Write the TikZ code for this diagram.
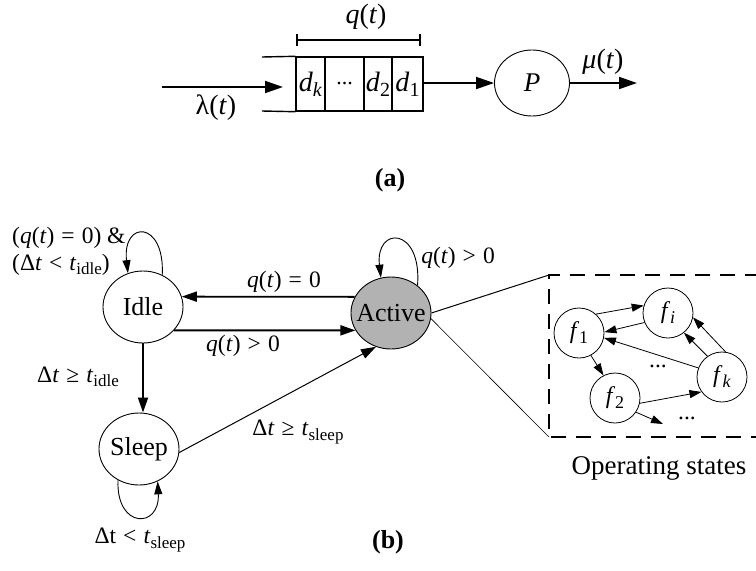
\documentclass[tikz,border=0pt]{standalone}
\usepackage{fontspec}
\setmainfont{Liberation Serif}
\usetikzlibrary{arrows.meta,shapes.geometric,calc}

\newcommand\vq{\textit{q}}
\newcommand\vt{\textit{t}}
\newcommand\vd{\textit{d}}
\newcommand\qoft{\vq(\vt)}
\newcommand\rel[1]{\hspace{0.3em}#1\hspace{0.3em}}
\newcommand\lowtext[2][17]{\raisebox{-0.4ex}{\fontsize{#1}{#1}\selectfont #2}}

\begin{document}
\begin{tikzpicture}[x=1pt,y=-1pt,
  every node/.style={font=\fontsize{23.5}{27}\selectfont, inner sep=0pt},
  bigtext/.style={font=\fontsize{28}{30}\selectfont},
  arrA/.style={-{Triangle[length=18pt,width=12pt]}, line width=1.8pt},
  arr/.style={-{Triangle[length=15pt,width=10pt]}, line width=1.8pt},
  thinarr/.style={-{Triangle[length=15pt,width=10pt]}, line width=1pt},
  loop/.style={-{Triangle[length=13pt,width=8pt]}, line width=0.9pt},
  smallarr/.style={-{Triangle[length=12pt,width=8pt]}, line width=0.8pt},
  statenode/.style={ellipse, draw, line width=0.9pt, minimum width=80pt,
    minimum height=72pt, inner sep=0pt, font=\fontsize{26}{28}\selectfont},
  opnode/.style={circle, draw, line width=0.8pt, minimum size=50pt,
    inner sep=0pt, font=\fontsize{24}{26}\selectfont},
  cell/.style={rectangle, draw, line width=1.4pt, minimum height=54pt,
    inner sep=0pt, font=\fontsize{28}{30}\selectfont},
  wall/.style={line width=1.4pt},
  boxline/.style={line width=1.8pt, dash pattern=on 15pt off 10pt}
]
\useasboundingbox (0,0) rectangle (756,571);

% ---------- (a) queue feeding the processor ----------
\node[cell, minimum width=29pt] (dk) at (310.5,84) {\vd\lowtext[20]{\textit{k}}};
\node[cell, minimum width=39pt] (dq) at (344.5,84) {\fontsize{22}{24}\selectfont...};
\node[cell, minimum width=28pt] (d2) at (378,84) {\vd\lowtext[20]{2}};
\node[cell, minimum width=31pt] (d1) at (407.5,84) {\vd\lowtext[20]{1}};

\coordinate (mouthtop) at (262,57);
\coordinate (mouthbot) at (262,111);
\draw[wall] (mouthtop) -- (dk.north west);
\draw[wall] (mouthbot) -- (dk.south west);

\coordinate (src) at (162,87);
\coordinate (qin) at (283,87);
\draw[arrA] (src) -- (qin);
\node[bigtext] (lam) at (216,108) {λ(\vt)};

\coordinate (bl) at (297,40);
\coordinate (br) at (420,40);
\draw[line width=1.4pt] (bl) -- (br);
\draw[line width=1.4pt] ($(bl)+(0,-6)$) -- ($(bl)+(0,6)$);
\draw[line width=1.4pt] ($(br)+(0,-6)$) -- ($(br)+(0,6)$);
\node[bigtext] (qlen) at (366,17) {\qoft};

\node[ellipse, draw, line width=0.9pt, minimum width=75pt, minimum height=66pt,
  font=\fontsize{27}{29}\selectfont] (P) at (532,83) {\makebox[0pt]{\textit{P}}};
\draw[arrA] (d1.east |- P.west) -- (P.west);
\coordinate (sink) at (637,83);
\draw[arrA] (P.east) -- (sink);
\node[bigtext] (mu) at (603,62) {\textit{μ}(\vt)};

\node[font=\fontsize{26}{28}\selectfont\bfseries] (capa) at (390,180) {(a)};

% ---------- (b) power-state machine ----------
\node[statenode] (Idle) at (143,307) {\makebox[0pt]{Idle}};
\node[statenode] (Sleep) at (139,449) {\makebox[0pt]{Sleep}};
\node[statenode, fill={rgb,255:red,178;green,178;blue,178}] (Active) at (391,313) {\makebox[0pt]{Active}};

\draw[arr] (Active.156) -- (Idle.15);
\draw[arr] (Idle.-37) -- (Active.206);
\draw[arr] (Idle.south) -- (Idle.south |- Sleep.north);
\draw[thinarr] (Sleep.-5) -- (Active.246);

\node (l0) at (284,282) {\qoft\rel{=}0};
\node (l1) at (243,346) {\qoft\rel{>}0};
\node (l2) at (78,377) {Δ\vt\rel{≥}\vt\lowtext{idle}};
\node (l3) at (298,432) {Δ\vt\rel{≥}\vt\lowtext{sleep}};

% self loops
\draw[loop] (Idle.59) .. controls (165,220) and (122,220) .. (Idle.114);
\node[anchor=west, align=left] (l4) at (12,251)
  {(\qoft\rel{=}0) \&\\(Δ\vt\rel{<}\vt\lowtext{idle})};

\draw[loop] (Active.46) .. controls (422,226) and (375,226) .. (Active.106);
\node (l5) at (458,258) {\qoft\rel{>}0};

\draw[loop] (Sleep.236) .. controls (116,529) and (160,529) .. (Sleep.300);
\node (l6) at (140,540) {Δt\rel{<}\vt\lowtext{sleep}};

\node[font=\fontsize{26}{28}\selectfont\bfseries] (capb) at (388,542) {(b)};

% ---------- operating states detail ----------
\coordinate (boxtl) at (549,275);
\coordinate (boxbl) at (549,437);
\coordinate (boxtr) at (760,275);
\coordinate (boxbr) at (760,437);
\draw[line width=1pt] (Active.east) -- (boxtl);
\draw[line width=0.6pt] (Active.-8) -- (boxbl);
\draw[boxline] (boxtr) -- (boxtl) -- (boxbl) -- (boxbr);

\node[opnode] (f1) at (579,333) {\textit{f}\lowtext[18]{1}};
\node[opnode] (fi) at (668,313) {\textit{f}\lowtext[18]{\textit{i}}};
\node[opnode] (f2) at (615,398) {\textit{f}\lowtext[18]{2}};
\node[opnode] (fk) at (722,377) {\textit{f}\lowtext[18]{\textit{k}}};

\draw[smallarr] (f1.48) -- (fi.163);
\draw[smallarr] (fi.202) -- (f1.2);
\draw[smallarr] (fk.159) -- (f1.349);
\draw[smallarr] (fk.82) -- (fi.-10);
\draw[smallarr] (fk.125) -- (fi.-51);
\draw[smallarr] (f1.-62) -- (f2.117);
\draw[smallarr] (f2.-12) -- (fk.216);
\coordinate (fout) at (663,424);
\draw[smallarr] (f2.-34) -- (fout);
\node (dots1) at (658,366) {...};
\node (dots2) at (687,418) {...};

\node[font=\fontsize{27}{29}\selectfont] (opst) at (659,468) {Operating states};
\end{tikzpicture}
\end{document}
